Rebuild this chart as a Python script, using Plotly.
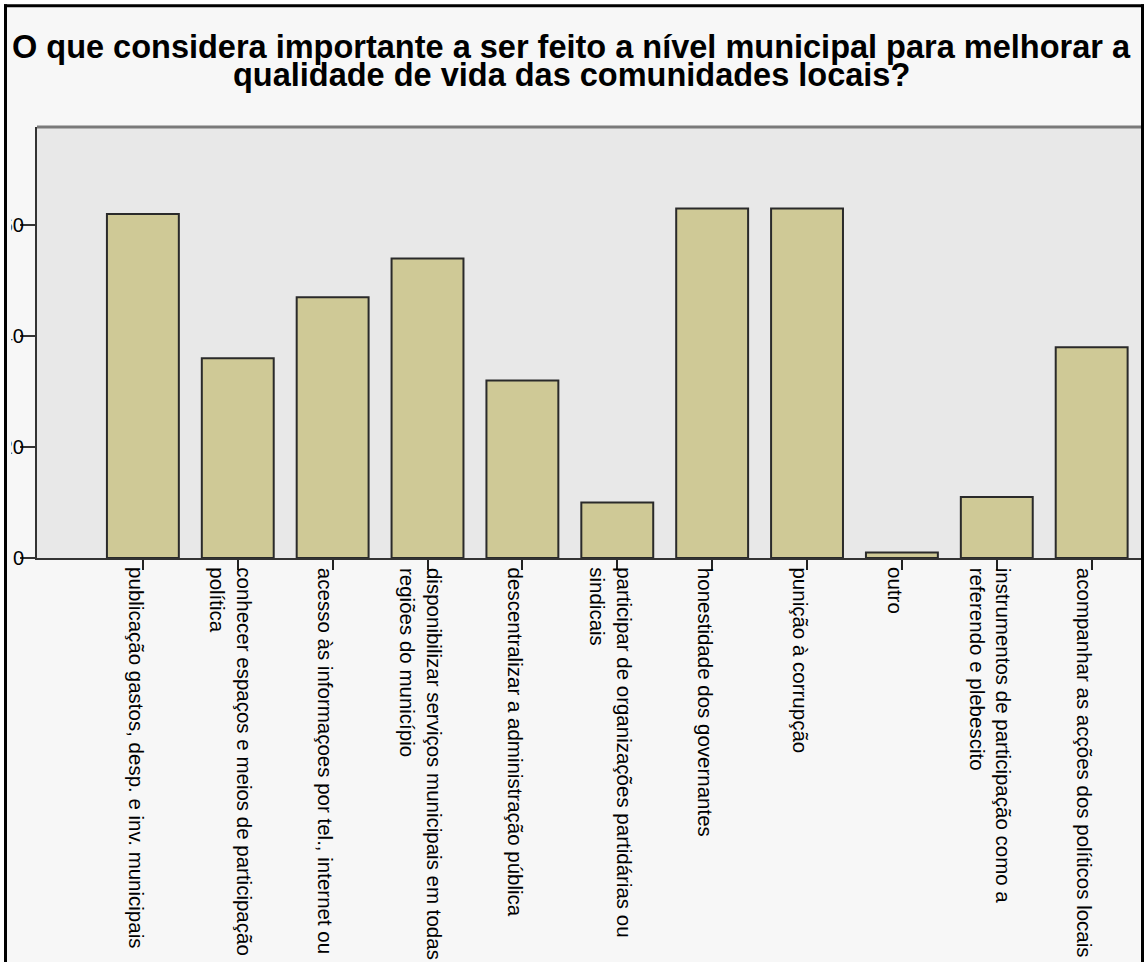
import plotly.graph_objects as go

categories = [
    "publicação gastos, desp. e inv. municipais",
    "conhecer espaços e meios de participação<br>política",
    "acesso às informaçoes por tel., internet ou",
    "disponibilizar serviços municipais em todas<br>regiões do município",
    "descentralizar a administração pública",
    "participar de organizações partidárias ou<br>sindicais",
    "honestidade dos governantes",
    "punição à corrupção",
    "outro",
    "instrumentos de participação como a<br>referendo e plebescito",
    "acompanhar as acções dos políticos locais",
]
counts = [62, 36, 47, 54, 32, 10, 63, 63, 1, 11, 38]
y_tickvals = [0, 20, 40, 60]
y_ticktext = ["0", "20", "40", "60"]
title_lines = [
    "O que considera importante a ser feito a nível municipal para melhorar a",
    "qualidade de vida das comunidades locais?",
]

W, H = 1144, 962
L, R, T, B = 37, 1141, 127, 558.5
PW, PH = R - L, B - T


def px(x):
    return (x - L) / PW


def py(y):
    return (B - y) / PH


font = "Liberation Sans, Arial, sans-serif"

fig = go.Figure(
    go.Bar(
        x=categories,
        y=counts,
        width=72 / 95,
        marker=dict(color="#CFC996", line=dict(color="#2a2a2a", width=2)),
        hoverinfo="skip",
    )
)

fig.update_layout(
    width=W,
    height=H,
    margin=dict(l=L, r=W - R, t=T, b=H - B, pad=0),
    paper_bgcolor="#F7F7F7",
    plot_bgcolor="#E8E8E8",
    showlegend=False,
    font=dict(family=font, color="#000"),
)

fig.update_xaxes(
    type="category",
    range=[-1.116, 10.52],
    showticklabels=False,
    ticks="outside",
    ticklen=10,
    tickwidth=2,
    tickcolor="#222",
    showline=True,
    linecolor="#333",
    linewidth=2,
    showgrid=False,
    automargin=False,
)
fig.update_yaxes(
    range=[0, 77.7],
    tickvals=y_tickvals,
    ticktext=y_ticktext,
    ticks="outside",
    ticklen=15,
    tickwidth=2,
    tickcolor="#333",
    showline=True,
    linecolor="#333",
    linewidth=2,
    showgrid=False,
    zeroline=False,
    tickfont=dict(size=20, family=font, color="#000"),
    ticklabelstandoff=-8,
    automargin=False,
)

shapes = [
    # white area outside frame (covers clipped parts of the y tick labels)
    dict(type="rect", xref="paper", yref="paper", x0=px(-5), x1=px(W + 5), y0=py(-5), y1=py(4),
         fillcolor="#FFFFFF", line=dict(width=0), layer="above"),
    dict(type="rect", xref="paper", yref="paper", x0=px(-5), x1=px(4), y0=py(-5), y1=py(H + 5),
         fillcolor="#FFFFFF", line=dict(width=0), layer="above"),
    dict(type="rect", xref="paper", yref="paper", x0=px(6), x1=px(11.3), y0=py(6), y1=py(H + 5),
         fillcolor="#F7F7F7", line=dict(width=0), layer="above"),
    # frame lines
    dict(type="line", xref="paper", yref="paper", x0=px(4), x1=px(W + 5), y0=py(5.5), y1=py(5.5),
         line=dict(color="#000", width=3), layer="above"),
    dict(type="line", xref="paper", yref="paper", x0=px(5.5), x1=px(5.5), y0=py(4), y1=py(H + 5),
         line=dict(color="#000", width=3), layer="above"),
    dict(type="line", xref="paper", yref="paper", x0=px(1142.5), x1=px(1142.5), y0=py(4), y1=py(H + 5),
         line=dict(color="#000", width=3), layer="above"),
    # plot top border
    dict(type="line", xref="paper", yref="paper", x0=0, x1=1, y0=1, y1=1,
         line=dict(color="#7A7A7A", width=3)),
]
fig.update_layout(shapes=shapes)

fig.add_annotation(text=title_lines[0], x=px(571), y=py(47), xref="paper", yref="paper",
                   showarrow=False, xanchor="center", yanchor="middle",
                   font=dict(size=32.5, family=font, color="#000", weight="bold"))
fig.add_annotation(text=title_lines[1], x=px(571), y=py(75), xref="paper", yref="paper",
                   showarrow=False, xanchor="center", yanchor="middle",
                   font=dict(size=32.5, family=font, color="#000", weight="bold"))

# rotated category labels
for cat in categories:
    fig.add_annotation(text=cat, x=cat, y=py(566), xref="x", yref="paper",
                       showarrow=False, textangle=90, xanchor="center", yanchor="top",
                       align="left", xshift=-7,
                       font=dict(size=20.5, family=font, color="#000"))

fig.write_html("out.html", config={"displayModeBar": False},
               post_script="document.body.style.margin='0';")
